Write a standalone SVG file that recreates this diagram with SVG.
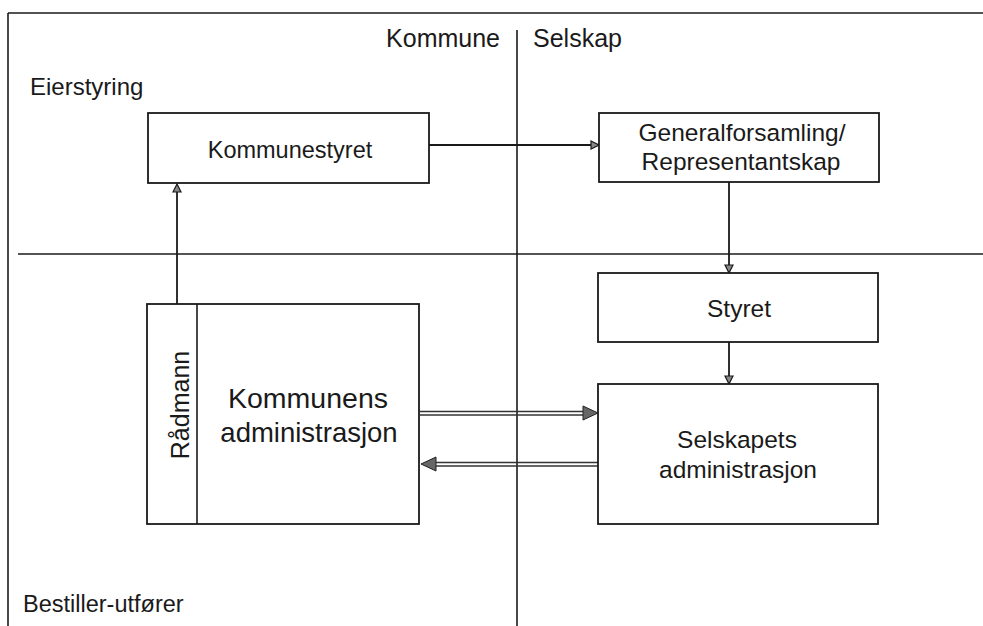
<svg xmlns="http://www.w3.org/2000/svg" width="983" height="626" viewBox="0 0 983 626">
<style>
text{font-family:"Liberation Sans",Arial,sans-serif;fill:#1a1a1a}
.box{fill:#fff;stroke:#1a1a1a;stroke-width:1.8}
.ln{stroke:#1a1a1a;stroke-width:1.6;fill:none}
.con{stroke:#1a1a1a;stroke-width:1.8;fill:none}
.dl{stroke:#333;stroke-width:1.3;fill:none}
.head{fill:#666;stroke:#222;stroke-width:1}
</style>
<defs>
<marker id="ah" markerWidth="10" markerHeight="10" refX="8" refY="5" orient="auto" markerUnits="userSpaceOnUse">
<path d="M1,1 L9,5 L1,9 Z" fill="#888" stroke="#1a1a1a" stroke-width="1.2"/>
</marker>
</defs>
<g id="frame">
<line class="ln" x1="8" y1="13" x2="983" y2="13" stroke-width="2"/>
<line class="ln" x1="8" y1="13" x2="8" y2="626"/>
<line class="ln" x1="517" y1="30" x2="517" y2="626"/>
<line class="ln" x1="18" y1="254" x2="983" y2="254" stroke-width="1.8"/>
<text x="500" y="47" font-size="25" text-anchor="end">Kommune</text>
<text x="533" y="47" font-size="25">Selskap</text>
<text x="30" y="95" font-size="24">Eierstyring</text>
<text x="23" y="612" font-size="23.5">Bestiller-utfører</text>
</g>
<g id="connectors">
<line class="con" x1="177" y1="304" x2="177" y2="185" marker-end="url(#ah)"/>
<line class="con" x1="429" y1="145" x2="598" y2="145" marker-end="url(#ah)"/>
<line class="con" x1="729" y1="182" x2="729" y2="272" marker-end="url(#ah)"/>
<line class="con" x1="729" y1="342" x2="729" y2="383" marker-end="url(#ah)"/>
<line class="dl" x1="420" y1="411.5" x2="588" y2="411.5"/>
<line class="dl" x1="420" y1="415" x2="588" y2="415"/>
<path class="head" d="M583,406 L598,413 L583,420 Z"/>
<line class="dl" x1="432" y1="462.5" x2="598" y2="462.5"/>
<line class="dl" x1="432" y1="466" x2="598" y2="466"/>
<path class="head" d="M436,457 L421,464 L436,471 Z"/>
</g>
<g id="kommunestyret">
<rect class="box" x="148" y="113" width="281" height="70"/>
<text x="290" y="158" font-size="23.5" text-anchor="middle">Kommunestyret</text>
</g>
<g id="generalforsamling">
<rect class="box" x="599" y="113" width="280" height="69"/>
<text x="742" y="141" font-size="24.5" text-anchor="middle">Generalforsamling/</text>
<text x="741" y="170" font-size="24.5" text-anchor="middle">Representantskap</text>
</g>
<g id="styret">
<rect class="box" x="598" y="273" width="280" height="69"/>
<text x="739" y="317" font-size="24.5" text-anchor="middle">Styret</text>
</g>
<g id="selskapets">
<rect class="box" x="598" y="384" width="280" height="140"/>
<text x="737" y="448" font-size="24.5" text-anchor="middle">Selskapets</text>
<text x="738" y="478" font-size="24.5" text-anchor="middle">administrasjon</text>
</g>
<g id="kommunens">
<rect class="box" x="147" y="304" width="272" height="220"/>
<line class="ln" x1="197" y1="304" x2="197" y2="524"/>
<text x="308" y="408" font-size="28.5" text-anchor="middle">Kommunens</text>
<text x="309" y="442" font-size="27.5" text-anchor="middle">administrasjon</text>
<text transform="translate(189,405) rotate(-90)" font-size="25" text-anchor="middle">Rådmann</text>
</g>
</svg>
